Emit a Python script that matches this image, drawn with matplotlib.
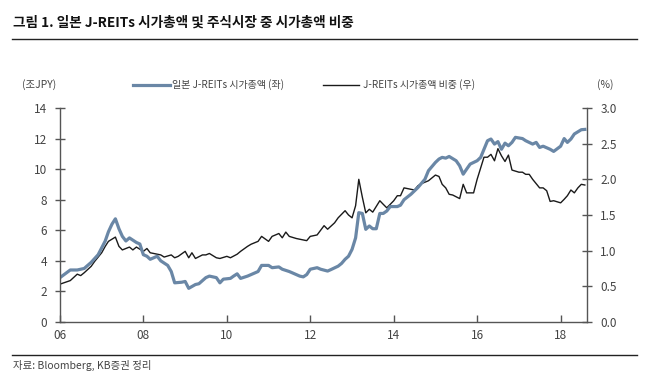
import matplotlib
matplotlib.use("Agg")
import matplotlib.pyplot as plt
import pandas as pd
from matplotlib.lines import Line2D

plt.rcParams["font.family"] = ["Noto Sans CJK KR", "DejaVu Sans"]

# J-REITs market cap (trillion JPY, left axis)
cap_dates = [
    "2006-01", "2006-04", "2006-06", "2006-08", "2006-10", "2006-12",
    "2007-02", "2007-03", "2007-04", "2007-05", "2007-06", "2007-07",
    "2007-08", "2007-09", "2007-11", "2007-12", "2008-01", "2008-02",
    "2008-03", "2008-05", "2008-06", "2008-08", "2008-09", "2008-10",
    "2008-12", "2009-01", "2009-02", "2009-04", "2009-05", "2009-07",
    "2009-08", "2009-10", "2009-11", "2009-12", "2010-02", "2010-03",
    "2010-04", "2010-05", "2010-07", "2010-08", "2010-10", "2010-11",
    "2011-01", "2011-02", "2011-04", "2011-05", "2011-07", "2011-08",
    "2011-10", "2011-11", "2011-12", "2012-01", "2012-03", "2012-04",
    "2012-06", "2012-07", "2012-09", "2012-10", "2012-11", "2012-12",
    "2013-01", "2013-02", "2013-03", "2013-04", "2013-05", "2013-06",
    "2013-07", "2013-08", "2013-09", "2013-10", "2013-11", "2013-12",
    "2014-02", "2014-03", "2014-04", "2014-06", "2014-08", "2014-10",
    "2014-11", "2015-01", "2015-02", "2015-03", "2015-04", "2015-05",
    "2015-07", "2015-08", "2015-09", "2015-10", "2015-11", "2016-01",
    "2016-02", "2016-03", "2016-04", "2016-05", "2016-06", "2016-07",
    "2016-08", "2016-09", "2016-10", "2016-11", "2016-12", "2017-02",
    "2017-03", "2017-05", "2017-06", "2017-07", "2017-08", "2017-10",
    "2017-11", "2018-01", "2018-02", "2018-03", "2018-04", "2018-05",
    "2018-07", "2018-08",
]
cap_values = [
    2.9, 3.4, 3.4, 3.5, 3.9, 4.4,
    5.3, 5.9, 6.4, 6.75, 6.1, 5.6,
    5.3, 5.5, 5.2, 5.1, 4.4, 4.3,
    4.1, 4.3, 4.0, 3.7, 3.3, 2.56,
    2.6, 2.65, 2.2, 2.45, 2.5, 2.9,
    3.0, 2.9, 2.56, 2.8, 2.85, 3.0,
    3.15, 2.85, 3.0, 3.1, 3.3, 3.7,
    3.7, 3.55, 3.6, 3.45, 3.3, 3.2,
    3.0, 2.95, 3.1, 3.45, 3.55, 3.45,
    3.33, 3.43, 3.65, 3.83, 4.1, 4.3,
    4.75, 5.5, 7.15, 7.1, 6.06, 6.28,
    6.1, 6.1, 7.1, 7.1, 7.26, 7.55,
    7.55, 7.64, 8.0, 8.36, 8.8, 9.34,
    9.9, 10.44, 10.66, 10.77, 10.72, 10.83,
    10.55, 10.22, 9.67, 10.0, 10.33, 10.55,
    10.77, 11.3, 11.86, 11.97, 11.64, 11.8,
    11.3, 11.7, 11.53, 11.75, 12.08, 12.0,
    11.86, 11.64, 11.75, 11.42, 11.5, 11.3,
    11.16, 11.5, 12.0, 11.75, 11.97, 12.3,
    12.58, 12.6,
]

# J-REITs share of stock market cap (%, right axis)
share_dates = [
    "2006-01", "2006-04", "2006-06", "2006-07", "2006-08", "2006-10",
    "2006-11", "2007-01", "2007-02", "2007-03", "2007-05", "2007-06",
    "2007-07", "2007-08", "2007-09", "2007-10", "2007-11", "2008-01",
    "2008-02", "2008-03", "2008-04", "2008-06", "2008-07", "2008-09",
    "2008-10", "2008-11", "2009-01", "2009-02", "2009-03", "2009-04",
    "2009-06", "2009-07", "2009-08", "2009-10", "2009-11", "2010-01",
    "2010-02", "2010-04", "2010-05", "2010-07", "2010-08", "2010-10",
    "2010-11", "2011-01", "2011-02", "2011-04", "2011-05", "2011-06",
    "2011-07", "2011-09", "2011-10", "2011-12", "2012-01", "2012-03",
    "2012-05", "2012-06", "2012-08", "2012-09", "2012-11", "2012-12",
    "2013-01", "2013-02", "2013-03", "2013-04", "2013-05", "2013-06",
    "2013-07", "2013-09", "2013-10", "2013-11", "2014-01", "2014-02",
    "2014-03", "2014-04", "2014-06", "2014-07", "2014-08", "2014-09",
    "2014-11", "2015-01", "2015-02", "2015-03", "2015-04", "2015-05",
    "2015-06", "2015-08", "2015-09", "2015-10", "2015-12", "2016-01",
    "2016-03", "2016-04", "2016-05", "2016-06", "2016-07", "2016-08",
    "2016-09", "2016-10", "2016-11", "2017-01", "2017-02", "2017-03",
    "2017-04", "2017-05", "2017-07", "2017-08", "2017-09", "2017-10",
    "2017-11", "2018-01", "2018-02", "2018-03", "2018-04", "2018-05",
    "2018-06", "2018-07", "2018-08",
]
share_values = [
    0.53, 0.58, 0.67, 0.65, 0.69, 0.78,
    0.85, 0.97, 1.06, 1.13, 1.19, 1.06,
    1.01, 1.03, 1.05, 1.01, 1.05, 0.99,
    1.03, 0.97, 0.96, 0.94, 0.91, 0.94,
    0.90, 0.92, 0.99, 0.90, 0.97, 0.89,
    0.94, 0.94, 0.96, 0.90, 0.89, 0.92,
    0.90, 0.95, 0.99, 1.06, 1.09, 1.13,
    1.20, 1.13, 1.20, 1.24, 1.18, 1.26,
    1.20, 1.17, 1.16, 1.14, 1.20, 1.22,
    1.35, 1.30, 1.39, 1.46, 1.56, 1.50,
    1.46, 1.63, 2.00, 1.75, 1.53, 1.58,
    1.54, 1.70, 1.65, 1.60, 1.70, 1.77,
    1.77, 1.88, 1.86, 1.85, 1.91, 1.94,
    1.98, 2.06, 2.04, 1.93, 1.88, 1.79,
    1.78, 1.73, 1.93, 1.81, 1.81, 2.00,
    2.31, 2.31, 2.35, 2.26, 2.43, 2.33,
    2.25, 2.34, 2.13, 2.10, 2.10, 2.07,
    2.07, 2.00, 1.88, 1.88, 1.84, 1.69,
    1.70, 1.67, 1.72, 1.77, 1.85, 1.81,
    1.88, 1.93, 1.92,
]

year_ticks = ["2006", "2008", "2010", "2012", "2014", "2016", "2018"]
year_labels = ["06", "08", "10", "12", "14", "16", "18"]
left_ticks = [0, 2, 4, 6, 8, 10, 12, 14]
right_ticks = [0.0, 0.5, 1.0, 1.5, 2.0, 2.5, 3.0]

title = "그림 1. 일본 J-REITs 시가총액 및 주식시장 중 시가총액 비중"
cap_label = "일본 J-REITs 시가총액 (좌)"
share_label = "J-REITs 시가총액 비중 (우)"
source = "자료: Bloomberg, KB증권 정리"

BLUE = "#6a87a6"
AXIS = "#555555"
TEXT = "#444444"

cap_x = pd.to_datetime(cap_dates)
share_x = pd.to_datetime(share_dates)

fig = plt.figure(figsize=(6.5, 3.81), dpi=100)
ax = fig.add_axes([0.0923, 0.155, 0.8108, 0.5615])
ax2 = ax.twinx()

ax.plot(cap_x, cap_values, color=BLUE, linewidth=2.3, solid_joinstyle="round", zorder=2)
ax2.plot(share_x, share_values, color="#1a1a1a", linewidth=1.0, zorder=3)
ax.set_zorder(ax2.get_zorder() + 1)
ax.patch.set_visible(False)

ax.set_xlim(pd.Timestamp("2006-01-01"), pd.Timestamp("2018-08-20"))
ax.set_ylim(0, 14)
ax2.set_ylim(0, 3.0)

ax.set_xticks(pd.to_datetime(year_ticks))
ax.set_xticklabels(year_labels)
ax.set_yticks(left_ticks)
ax.set_yticklabels([str(v) for v in left_ticks])
ax2.set_yticks(right_ticks)
ax2.set_yticklabels([f"{v:.1f}" for v in right_ticks])

for a in (ax, ax2):
    a.spines["top"].set_visible(False)
    for s in ("left", "right", "bottom"):
        a.spines[s].set_color(AXIS)
        a.spines[s].set_linewidth(1.0)
ax.spines["right"].set_visible(False)
ax2.spines["left"].set_visible(False)
ax2.spines["bottom"].set_visible(False)

ax.tick_params(axis="y", direction="inout", length=7, width=1, colors=AXIS,
               labelcolor=TEXT, labelsize=8.5, pad=6)
ax.tick_params(axis="x", direction="in", length=5, width=1, colors=AXIS,
               labelcolor=TEXT, labelsize=8.5, pad=5)
ax2.tick_params(axis="y", direction="inout", length=7, width=1, colors=AXIS,
                labelcolor=TEXT, labelsize=8.5, pad=6)

# title and rules
fig.text(0.02, 0.94, title, fontsize=9.8, fontweight="bold", color="#111111",
         ha="left", va="center")
fig.add_artist(Line2D([0.018, 0.98], [0.897, 0.897], color="#222222", linewidth=1.0))
fig.add_artist(Line2D([0.018, 0.98], [0.068, 0.068], color="#222222", linewidth=1.0))
fig.text(0.02, 0.042, source, fontsize=7.5, color=TEXT, ha="left", va="center")

# unit labels
fig.text(0.034, 0.777, "(조JPY)", fontsize=7.5, color=TEXT, ha="left", va="center")
fig.text(0.918, 0.777, "(%)", fontsize=7.5, color=TEXT, ha="left", va="center")

# legend
fig.add_artist(Line2D([0.205, 0.262], [0.777, 0.777], color=BLUE, linewidth=2.3))
fig.text(0.265, 0.777, cap_label, fontsize=7.2, color=TEXT, ha="left", va="center")
fig.add_artist(Line2D([0.497, 0.552], [0.777, 0.777], color="#1a1a1a", linewidth=1.0))
fig.text(0.558, 0.777, share_label, fontsize=7.2, color=TEXT, ha="left", va="center")

fig.savefig("out.png", dpi=100)
